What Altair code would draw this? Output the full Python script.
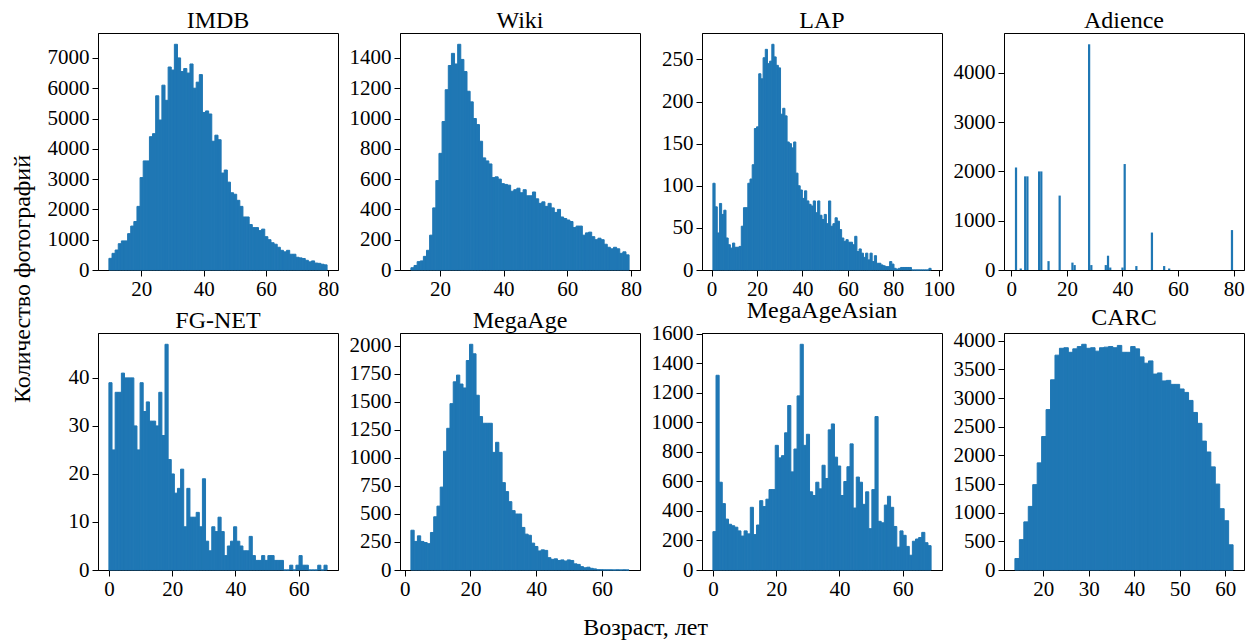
import altair as alt
import pandas as pd

FONT = "Liberation Serif"
BLUE = "#1f77b4"

# ---------------- data ----------------
names = ["IMDB", "Wiki", "LAP", "Adience", "FG-NET", "MegaAge", "MegaAgeAsian", "CARC"]

imdb_start, imdb_width = 9.6, 1.0
imdb_counts = [385, 550, 660, 868, 960, 960, 1200, 1450, 1600, 2100,
               3050, 3600, 3600, 4400, 4500, 5750, 4950, 6100, 5600, 6700,
               6600, 7450, 7000, 6550, 6650, 6500, 6800, 6000, 6200, 6450,
               5200, 5250, 5150, 4250, 4450, 4300, 3200, 3300, 2900, 2550,
               2500, 2300, 2100, 1750, 1750, 1500, 1400, 1400, 1300, 1350,
               1100, 1000, 900, 850, 750, 650, 600, 650, 520, 520,
               420, 400, 380, 320, 270, 300, 230, 220, 190, 170]

wiki_start, wiki_width = 10.9, 0.979
wiki_counts = [15, 30, 55, 60, 90, 130, 230, 410, 590, 770,
               980, 1190, 1350, 1430, 1360, 1490, 1390, 1310, 1180, 1110,
               1000, 960, 850, 740, 720, 700, 610, 615, 600, 570,
               565, 560, 520, 530, 540, 510, 530, 490, 490, 515,
               470, 440, 450, 420, 440, 410, 380, 400, 350, 340,
               330, 320, 280, 290, 290, 230, 245, 250, 220, 200,
               210, 200, 170, 150, 140, 150, 140, 110, 120, 100]

lap_start, lap_width = 0.6, 0.96
lap_counts = [103, 75, 44, 79, 66, 71, 38, 30, 26, 32,
              27, 27, 28, 52, 74, 74, 103, 108, 125, 168,
              170, 233, 227, 252, 262, 245, 248, 268, 253, 243,
              240, 185, 192, 183, 152, 150, 145, 152, 115, 100,
              95, 85, 94, 82, 78, 76, 82, 68, 82, 65,
              60, 66, 55, 82, 52, 55, 62, 58, 48, 38,
              34, 36, 33, 33, 30, 40, 22, 25, 20, 15,
              20, 12, 20, 10, 17, 8, 8, 6, 5, 4,
              4, 10, 7, 2, 1, 2, 3, 3, 3, 3,
              3, 0, 0, 0, 0, 0, 0, 0, 0, 2]

adience_width = 0.8
adience_lefts = [1.3, 3.0, 4.6, 5.4, 9.6, 10.4, 13.0, 17.0, 21.6, 22.4, 27.6,
                 28.4, 33.6, 34.4, 35.2, 39.6, 40.4, 44.6, 50.2, 54.6, 56.4, 79.0]
adience_counts = [2080, 30, 1900, 1900, 2000, 2000, 180, 1510, 150, 100, 4580,
                  100, 100, 290, 50, 50, 2150, 80, 760, 80, 30, 810]

fgnet_start, fgnet_width = 0.0, 69 / 70
fgnet_counts = [39, 25, 37, 37, 41, 40, 40, 40, 30, 25,
                39, 33, 35, 31, 31, 30, 37, 28, 47, 23,
                20, 16, 17, 21, 9, 17, 11, 11, 12, 9,
                19, 6, 4, 9, 8, 11, 8, 3, 5, 6,
                9, 6, 5, 4, 4, 7, 3, 2, 2, 3,
                2, 3, 3, 2, 2, 2, 0, 0, 1, 0,
                1, 3, 1, 1, 0, 0, 0, 1, 0, 1]

megaage_start, megaage_width = 1.9, 0.99
megaage_counts = [355, 255, 305, 255, 245, 235, 335, 475, 570, 740,
                  1060, 1265, 1485, 1680, 1740, 1660, 1625, 1870, 2015, 1930,
                  1560, 1370, 1310, 1310, 1310, 1050, 1140, 1050, 780, 700,
                  610, 530, 500, 500, 380, 320, 310, 240, 210, 170,
                  180, 175, 110, 95, 100, 85, 90, 80, 90, 85,
                  55, 50, 30, 20, 25, 15, 10, 3, 2, 1,
                  1, 1, 0, 1, 0, 1, 0]

asian_start, asian_width = 0.0, 69 / 70
asian_counts = [260, 1320, 595, 450, 345, 310, 300, 290, 265, 230,
                265, 245, 425, 240, 305, 470, 430, 480, 545, 545,
                845, 760, 775, 930, 1115, 665, 820, 1180, 1530, 845,
                920, 530, 505, 595, 550, 710, 620, 950, 990, 765,
                705, 505, 600, 700, 855, 420, 630, 595, 445, 530,
                280, 545, 1040, 330, 320, 440, 500, 425, 295, 155,
                265, 235, 160, 100, 195, 210, 220, 255, 185, 165]

carc_start, carc_width = 13.8, 0.978
carc_counts = [200, 530, 840, 1110, 1490, 1870, 2330, 2800, 3320, 3750,
               3870, 3880, 3800, 3860, 3900, 3940, 3870, 3880, 3820, 3880,
               3890, 3900, 3880, 3920, 3800, 3800, 3900, 3860, 3720, 3610,
               3650, 3420, 3440, 3300, 3310, 3240, 3240, 3160, 3100, 2960,
               2750, 2560, 2250, 2060, 1800, 1500, 1070, 860, 440]

x_ticks = [[20, 40, 60, 80], [20, 40, 60, 80], [0, 20, 40, 60, 80, 100], [0, 20, 40, 60, 80],
           [0, 20, 40, 60], [0, 20, 40, 60], [0, 20, 40, 60], [20, 30, 40, 50, 60]]
y_ticks = [list(range(0, 7001, 1000)), list(range(0, 1401, 200)), list(range(0, 251, 50)),
           list(range(0, 4001, 1000)), list(range(0, 41, 10)), list(range(0, 2001, 250)),
           list(range(0, 1601, 200)), list(range(0, 4001, 500))]

x_title = "Возраст, лет"
y_title = "Количество фотографий"


def uniform(start, width, counts):
    lefts = [start + i * width for i in range(len(counts))]
    return pd.DataFrame({"x0": lefts, "x1": [l + width for l in lefts], "n": counts})


frames = [
    uniform(imdb_start, imdb_width, imdb_counts),
    uniform(wiki_start, wiki_width, wiki_counts),
    uniform(lap_start, lap_width, lap_counts),
    pd.DataFrame({"x0": adience_lefts, "x1": [l + adience_width for l in adience_lefts], "n": adience_counts}),
    uniform(fgnet_start, fgnet_width, fgnet_counts),
    uniform(megaage_start, megaage_width, megaage_counts),
    uniform(asian_start, asian_width, asian_counts),
    uniform(carc_start, carc_width, carc_counts),
]
for f in frames:
    f["base"] = 0

W, H = 240, 237


def panel(i):
    df = frames[i]
    lo, hi = df["x0"].min(), df["x1"].max()
    m = 0.05 * (hi - lo)
    ymax = 1.05 * df["n"].max()
    ax = dict(grid=False, title=None, tickSize=6, tickColor="black", tickWidth=1,
              domainColor="black", domainWidth=1, labelFont=FONT, labelFontSize=21,
              labelColor="black", labelOverlap=False, labelFlush=False, format="d")
    sw = 0 if names[i] == "Adience" else 1
    return alt.Chart(df).mark_rect(color=BLUE, stroke=BLUE, strokeWidth=sw).encode(
        x=alt.X("x0:Q", scale=alt.Scale(domain=[lo - m, hi + m], nice=False, zero=False),
                axis=alt.Axis(values=x_ticks[i], labelPadding=2, **ax)),
        x2="x1:Q",
        y=alt.Y("n:Q", scale=alt.Scale(domain=[0, ymax], nice=False),
                axis=alt.Axis(values=y_ticks[i], labelPadding=3, **ax)),
        y2="base:Q",
    ).properties(
        width=W, height=H,
        title=alt.TitleParams(names[i], font=FONT, fontSize=24, fontWeight="normal",
                              color="black", anchor="middle", offset=0),
    )


grid = alt.concat(*[panel(i) for i in range(8)], columns=4, bounds="flush",
                  spacing=alt.RowColnumber(row=63, column=62)).properties(
    title=alt.TitleParams(x_title, orient="bottom", font=FONT, fontSize=24, fontWeight="normal",
                          color="black", anchor="middle", offset=16))
chart = alt.hconcat(grid).properties(
    title=alt.TitleParams(y_title, orient="left", font=FONT, fontSize=24, fontWeight="normal",
                          color="black", anchor="middle", offset=12, dx=45),
    padding={"left": 2, "top": 0, "right": 0, "bottom": 0},
).configure_view(stroke="black", strokeWidth=1)

chart.save("out.html", embed_options={"renderer": "svg", "actions": False})
